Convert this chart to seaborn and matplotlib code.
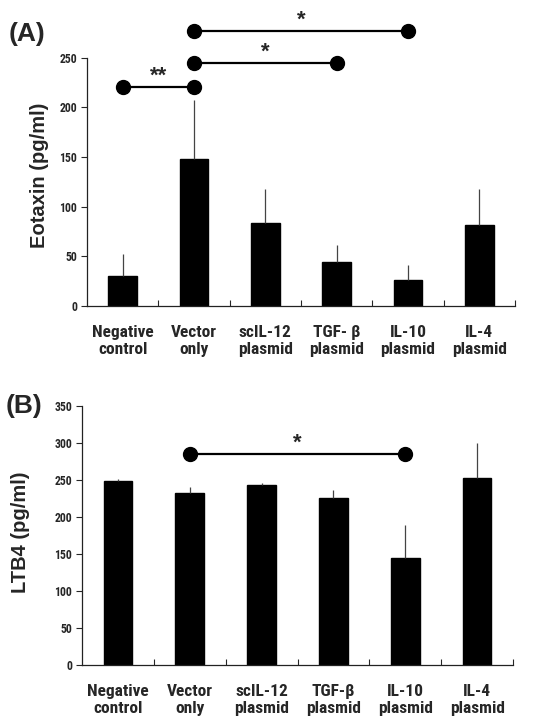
import matplotlib.pyplot as plt
import seaborn as sns

groups_a = ['Negative\ncontrol', 'Vector\nonly', 'scIL-12\nplasmid',
            'TGF- β\nplasmid', 'IL-10\nplasmid', 'IL-4\nplasmid']
groups_b = ['Negative\ncontrol', 'Vector\nonly', 'scIL-12\nplasmid',
            'TGF-β\nplasmid', 'IL-10\nplasmid', 'IL-4\nplasmid']

eotaxin = [30, 148, 84, 44, 26, 82]
eotaxin_err = [22, 59, 34, 17, 15, 36]

ltb4 = [248, 233, 243, 226, 144, 253]
ltb4_err = [4, 8, 3, 10, 45, 47]

# significance brackets: (from group, to group, height, label)
sig_a = [(0, 1, 221, '**'), (1, 3, 245, '*'), (1, 4, 277, '*')]
sig_b = [(1, 4, 285, '*')]

sns.set_style('ticks')
NARROW = ['Roboto Condensed', 'DejaVu Sans']
WIDE = ['Liberation Sans', 'DejaVu Sans']
plt.rcParams['font.family'] = WIDE


def panel(ax, groups, vals, errs, sigs, ymax, ytop, ystep, ylabel, label_xy):
    sns.barplot(x=groups, y=vals, color='black', width=0.4, ax=ax,
                edgecolor='black', saturation=1)
    # one-sided error bars, no caps
    ax.errorbar(range(len(vals)), vals, yerr=[[0] * len(vals), errs],
                fmt='none', ecolor='#444444', elinewidth=0.9, capsize=0)

    ax.set_xlim(-0.5, len(groups) - 0.5)
    ax.set_ylim(0, ymax)
    ax.set_yticks(range(0, ytop + 1, ystep))
    ax.spines['left'].set_bounds(0, ytop)
    sns.despine(ax=ax)
    for s in ['left', 'bottom']:
        ax.spines[s].set_linewidth(0.9)
        ax.spines[s].set_color('#222222')

    ax.set_xticks([i + 0.5 for i in range(len(groups))], minor=True)
    ax.tick_params(axis='x', which='major', length=0, pad=14)
    ax.tick_params(axis='x', which='minor', direction='in', length=4, width=0.8)
    ax.tick_params(axis='y', length=4, width=0.8, pad=3)
    ax.set_xticklabels(groups, family=NARROW, fontweight='bold', fontsize=12.5,
                       linespacing=1.1)
    for lab in ax.get_yticklabels():
        lab.set_family(NARROW)
        lab.set_fontweight('bold')
        lab.set_fontsize(8.5)
    ax.set_xlabel('')
    ax.set_ylabel(ylabel, fontweight='bold', fontsize=14.5)
    ax.yaxis.set_label_coords(*label_xy)

    for a, b, h, txt in sigs:
        ax.plot([a, b], [h, h], color='black', lw=1.6, marker='o',
                markersize=10, clip_on=False)
        ax.text((a + b) / 2, h, txt, ha='center', va='bottom',
                fontsize=16, fontweight='bold')


fig = plt.figure(figsize=(5.4, 7.2), dpi=100)
ax_a = fig.add_axes([87 / 540, 1 - 306 / 720, 428 / 540, 283 / 720])
ax_b = fig.add_axes([82 / 540, 1 - 665 / 720, 431 / 540, 259 / 720])

panel(ax_a, groups_a, eotaxin, eotaxin_err, sig_a, 285, 250, 50,
      'Eotaxin (pg/ml)', (-0.089, 0.463))
panel(ax_b, groups_b, ltb4, ltb4_err, sig_b, 350, 350, 50,
      'LTB4 (pg/ml)', (-0.12, 0.514))

fig.text(9 / 540, 1 - 41 / 720, '(A)', fontsize=19, fontweight='bold')
fig.text(6 / 540, 1 - 413 / 720, '(B)', fontsize=19, fontweight='bold')

fig.savefig('out.png', dpi=100)
